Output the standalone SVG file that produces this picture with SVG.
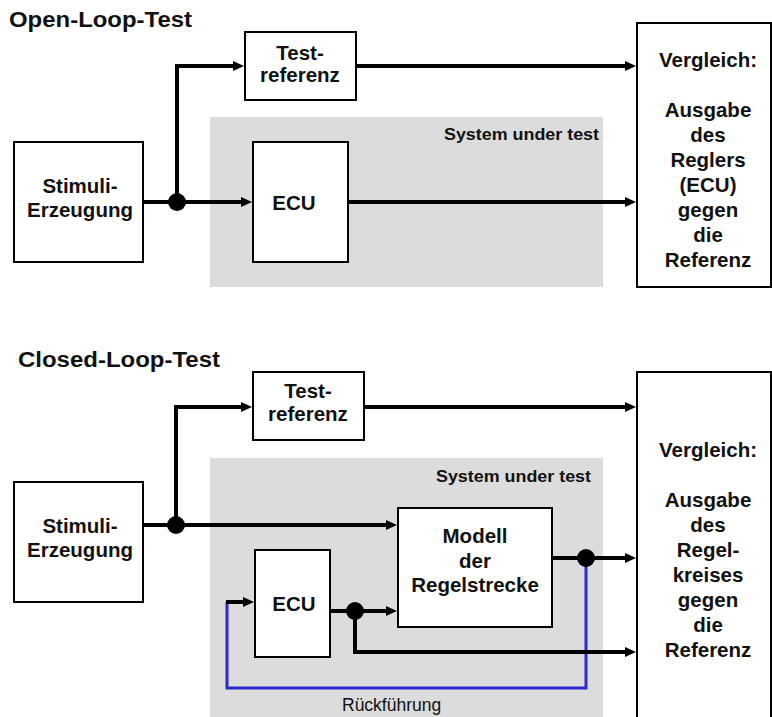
<svg xmlns="http://www.w3.org/2000/svg" width="772" height="717" viewBox="0 0 772 717">
  <style>
    .box { fill: #ffffff; stroke: #000000; stroke-width: 2; }
    .sut { fill: #dcdcdc; stroke: none; }
    .wire { fill: none; stroke: #000000; stroke-width: 4; }
    .fb { fill: none; stroke: #2a2acf; stroke-width: 3; }
    .dot { fill: #000000; }
    .t { font-family: "Liberation Sans", Arial, sans-serif; font-weight: bold; font-size: 20.5px; fill: #111111; text-anchor: middle; }
    .title { font-family: "Liberation Sans", Arial, sans-serif; font-weight: bold; font-size: 22px; fill: #111111; }
    .lbl { font-family: "Liberation Sans", Arial, sans-serif; font-weight: bold; font-size: 17px; fill: #111111; text-anchor: end; }
    .reg { font-family: "Liberation Sans", Arial, sans-serif; font-size: 17.5px; fill: #111111; }
  </style>
  <defs>
    <marker id="arrow" markerUnits="userSpaceOnUse" markerWidth="14" markerHeight="12" refX="1" refY="5" orient="auto">
      <path d="M0,0 L11,5 L0,10 Z" fill="#000000"/>
    </marker>
  </defs>

  <!-- ===== Open-loop section ===== -->
  <text class="title" x="9" y="27" textLength="183" lengthAdjust="spacingAndGlyphs">Open-Loop-Test</text>

  <g id="ol-sut">
    <rect class="sut" x="210" y="117" width="393" height="170"/>
    <text class="lbl" x="599" y="140" textLength="155" lengthAdjust="spacingAndGlyphs">System under test</text>
  </g>

  <g id="ol-stimuli">
    <rect class="box" x="14" y="142" width="129" height="120"/>
    <text class="t" x="80" y="193">Stimuli-</text>
    <text class="t" x="80" y="217">Erzeugung</text>
  </g>

  <g id="ol-testref">
    <rect class="box" x="245" y="32" width="111" height="68"/>
    <text class="t" x="300" y="60">Test-</text>
    <text class="t" x="300" y="82">referenz</text>
  </g>

  <g id="ol-ecu">
    <rect class="box" x="253" y="142" width="95" height="120"/>
    <text class="t" x="294" y="210">ECU</text>
  </g>

  <g id="ol-compare">
    <rect class="box" x="637" y="23" width="134" height="264"/>
    <text class="t" x="708" y="67">Vergleich:</text>
    <text class="t" x="708" y="117">Ausgabe</text>
    <text class="t" x="708" y="142">des</text>
    <text class="t" x="708" y="167">Reglers</text>
    <text class="t" x="708" y="192">(ECU)</text>
    <text class="t" x="708" y="217">gegen</text>
    <text class="t" x="708" y="242">die</text>
    <text class="t" x="708" y="267">Referenz</text>
  </g>

  <g id="ol-connectors">
    <path class="wire" d="M143,202 H242" marker-end="url(#arrow)"/>
    <path class="wire" d="M177,202 V66 H234" marker-end="url(#arrow)"/>
    <path class="wire" d="M356,66 H626" marker-end="url(#arrow)"/>
    <path class="wire" d="M348,202 H626" marker-end="url(#arrow)"/>
    <circle class="dot" cx="177" cy="202" r="9"/>
  </g>

  <!-- ===== Closed-loop section ===== -->
  <text class="title" x="18" y="367" textLength="202" lengthAdjust="spacingAndGlyphs">Closed-Loop-Test</text>

  <g id="cl-sut">
    <rect class="sut" x="210" y="458" width="393" height="259"/>
    <text class="lbl" x="591" y="482" textLength="155" lengthAdjust="spacingAndGlyphs">System under test</text>
  </g>

  <g id="cl-stimuli">
    <rect class="box" x="14" y="482" width="129" height="120"/>
    <text class="t" x="80" y="533">Stimuli-</text>
    <text class="t" x="80" y="557">Erzeugung</text>
  </g>

  <g id="cl-testref">
    <rect class="box" x="253" y="372" width="111" height="68"/>
    <text class="t" x="308" y="398">Test-</text>
    <text class="t" x="308" y="421">referenz</text>
  </g>

  <g id="cl-ecu">
    <rect class="box" x="255" y="550" width="75" height="107"/>
    <text class="t" x="294" y="611">ECU</text>
  </g>

  <g id="cl-plant">
    <rect class="box" x="398" y="508" width="154" height="119"/>
    <text class="t" x="475" y="543">Modell</text>
    <text class="t" x="475" y="568">der</text>
    <text class="t" x="475" y="592">Regelstrecke</text>
  </g>

  <g id="cl-compare">
    <rect class="box" x="637" y="372" width="134" height="360"/>
    <text class="t" x="708" y="457">Vergleich:</text>
    <text class="t" x="708" y="507">Ausgabe</text>
    <text class="t" x="708" y="532">des</text>
    <text class="t" x="708" y="557">Regel-</text>
    <text class="t" x="708" y="582">kreises</text>
    <text class="t" x="708" y="607">gegen</text>
    <text class="t" x="708" y="632">die</text>
    <text class="t" x="708" y="657">Referenz</text>
  </g>

  <g id="cl-connectors">
    <path class="fb" d="M586,558 V688 H227 V602"/>
    <path class="wire" d="M143,525 H387" marker-end="url(#arrow)"/>
    <path class="wire" d="M176,525 V407 H242" marker-end="url(#arrow)"/>
    <path class="wire" d="M364,407 H626" marker-end="url(#arrow)"/>
    <path class="wire" d="M330,611 H387" marker-end="url(#arrow)"/>
    <path class="wire" d="M355,611 V652 H626" marker-end="url(#arrow)"/>
    <path class="wire" d="M552,558 H626" marker-end="url(#arrow)"/>
    <path class="wire" d="M226,602 H244" marker-end="url(#arrow)"/>
    <circle class="dot" cx="176" cy="525" r="9"/>
    <circle class="dot" cx="355" cy="611" r="9"/>
    <circle class="dot" cx="586" cy="558" r="9"/>
    <text class="reg" x="342" y="711">Rückführung</text>
  </g>
</svg>
